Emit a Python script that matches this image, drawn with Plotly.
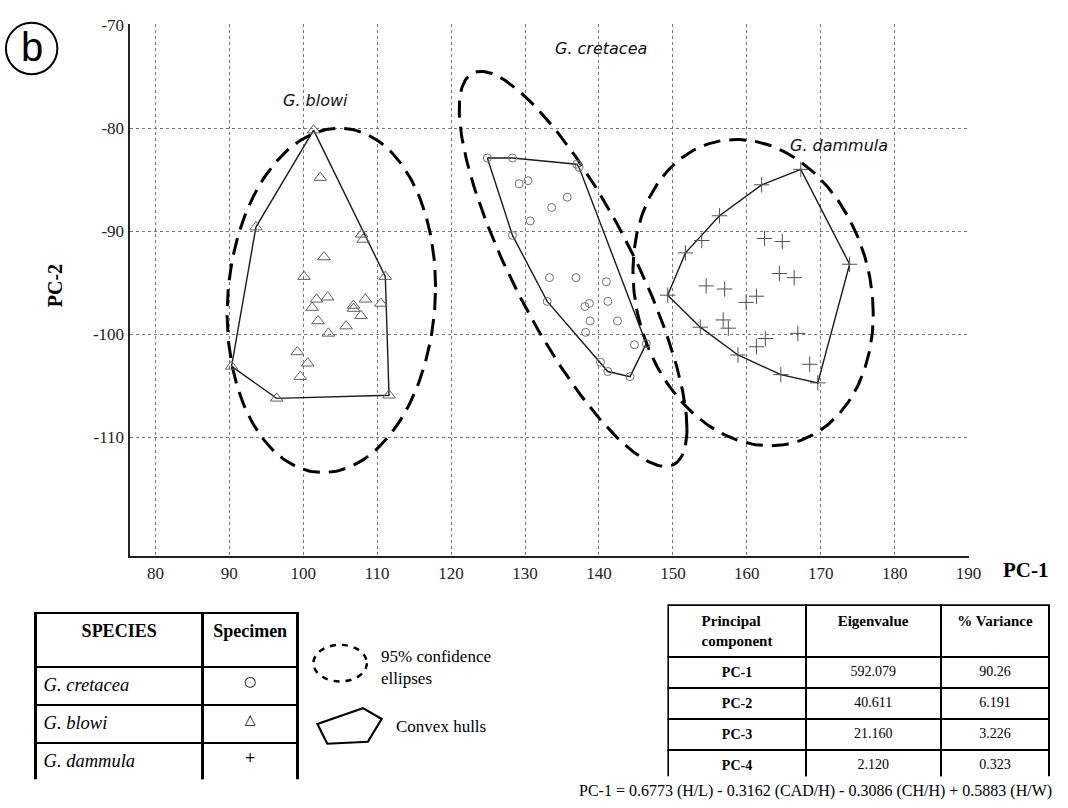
import numpy as np
import plotly.graph_objects as go

# ---------------- data ----------------
blowi_x = [101.4, 102.3, 93.6, 107.9, 108.1, 102.8, 100.1, 111.1, 101.8, 103.3, 101.2, 106.8, 106.8,
           108.4, 110.5, 107.8, 102.0, 105.8, 103.4, 99.2, 100.6, 99.6, 90.3, 96.4, 111.6]
blowi_y = [-80.2, -84.8, -89.6, -90.3, -90.8, -92.5, -94.4, -94.4, -96.6, -96.4, -97.4, -97.2, -97.5,
           -96.6, -97.0, -98.2, -98.7, -99.2, -99.9, -101.7, -102.8, -104.1, -103.1, -106.2, -105.9]

cretacea_x = [124.9, 128.3, 137.0, 137.3, 129.2, 130.4, 135.7, 133.6, 130.7, 128.3, 133.3, 136.9, 141.0,
              133.0, 141.2, 138.7, 138.1, 138.8, 142.5, 138.2, 144.8, 146.4, 140.2, 141.2, 144.2]
cretacea_y = [-82.9, -82.9, -83.5, -83.8, -85.4, -85.1, -86.7, -87.7, -89.0, -90.4, -94.5, -94.5, -94.9,
              -96.8, -96.8, -97.0, -97.3, -98.7, -98.7, -99.8, -101.0, -100.9, -102.7, -103.6, -104.1]

dammula_x = [167.3, 162.0, 156.3, 153.9, 151.7, 162.4, 164.8, 173.9, 164.4, 166.4, 154.5, 157.0, 161.3,
             159.9, 149.3, 156.8, 157.5, 153.7, 166.9, 162.5, 161.3, 158.8, 168.5, 164.6, 169.6]
dammula_y = [-84.0, -85.5, -88.5, -90.9, -92.1, -90.7, -91.0, -93.2, -94.1, -94.5, -95.3, -95.6, -96.3,
             -96.9, -96.2, -98.6, -99.4, -99.3, -99.9, -100.4, -101.2, -102.0, -102.9, -103.9, -104.7]

species = ["G. cretacea", "G. blowi", "G. dammula"]
species_labels_x = [140.3, 101.6, 172.5]
species_labels_y = [-72.3, -77.3, -81.7]

# 95% ellipses: centre, half-extent in x, half-extent in y, correlation
ell_cx = [136.5, 103.8, 160.85]
ell_cy = [-93.65, -96.7, -95.95]
ell_sx = [15.4, 14.1, 16.25]
ell_sy = [19.15, 16.7, 14.85]
ell_r = [-0.81, 0.078, -0.14]

x_ticks = [80, 90, 100, 110, 120, 130, 140, 150, 160, 170, 180, 190]
y_ticks = [-70, -80, -90, -100, -110]

table1_header = ["SPECIES", "Specimen"]
table1_species = ["G. cretacea", "G. blowi", "G. dammula"]
table1_symbols = ["○", "△", "+"]

table2_header = ["Principal<br>component", "Eigenvalue", "% Variance"]
table2_pc = ["PC-1", "PC-2", "PC-3", "PC-4"]
table2_eigen = ["592.079", "40.611", "21.160", "2.120"]
table2_var = ["90.26", "6.191", "3.226", "0.323"]

equation = "PC-1 = 0.6773 (H/L) - 0.3162 (CAD/H) - 0.3086 (CH/H) + 0.5883 (H/W)"

# ---------------- helpers ----------------
W, H = 1068, 808


def fx(px):
    return px / W


def fy(py):
    return 1 - py / H


def convex_hull(xs, ys):
    pts = sorted(set(zip(xs, ys)))

    def cross(o, a, b):
        return (a[0] - o[0]) * (b[1] - o[1]) - (a[1] - o[1]) * (b[0] - o[0])

    lower, upper = [], []
    for p in pts:
        while len(lower) >= 2 and cross(lower[-2], lower[-1], p) <= 0:
            lower.pop()
        lower.append(p)
    for p in reversed(pts):
        while len(upper) >= 2 and cross(upper[-2], upper[-1], p) <= 0:
            upper.pop()
        upper.append(p)
    hull = lower[:-1] + upper[:-1]
    hull.append(hull[0])
    return [p[0] for p in hull], [p[1] for p in hull]


def ellipse(cx, cy, sx, sy, r, n=240):
    t = np.linspace(0, 2 * np.pi, n)
    x = cx + sx * np.cos(t)
    y = cy + sy * (r * np.cos(t) + np.sqrt(1 - r * r) * np.sin(t))
    return x, y


fig = go.Figure()

FONT_SERIF = "Liberation Serif, Times New Roman, serif"

# ellipses
for i in range(3):
    ex, ey = ellipse(ell_cx[i], ell_cy[i], ell_sx[i], ell_sy[i], ell_r[i])
    fig.add_trace(go.Scatter(x=ex, y=ey, mode="lines",
                             line=dict(color="black", width=3, dash="17px,9px"),
                             hoverinfo="skip", showlegend=False))

# hulls + points
groups = [(cretacea_x, cretacea_y, "circle-open", 8, "#707070"),
          (blowi_x, blowi_y, "triangle-up-open", 11, "#606060"),
          (dammula_x, dammula_y, "cross-thin-open", 11, "#505050")]
for xs, ys, sym, sz, col in groups:
    hx, hy = convex_hull(xs, ys)
    fig.add_trace(go.Scatter(x=hx, y=hy, mode="lines",
                             line=dict(color="#1a1a1a", width=1.4),
                             hoverinfo="skip", showlegend=False))
for (xs, ys, sym, sz, col), name in zip(groups, species):
    fig.add_trace(go.Scatter(x=xs, y=ys, mode="markers", name=name,
                             marker=dict(symbol=sym, size=sz, color=col,
                                         line=dict(color=col, width=1)),
                             showlegend=False))

# species labels
for name, lx, ly in zip(species, species_labels_x, species_labels_y):
    fig.add_annotation(x=lx, y=ly, xref="x", yref="y", text=f"<i>{name}</i>",
                       showarrow=False, xanchor="center", yanchor="middle",
                       font=dict(family="DejaVu Sans", size=16, color="#111"))

# tables
fig.add_trace(go.Table(
    domain=dict(x=[fx(36), fx(301)], y=[fy(779), fy(611)]),
    columnwidth=[169, 96],
    header=dict(values=[f"<b>{h}</b>" for h in table1_header],
                align="center", height=54,
                line=dict(color="black", width=2.5), fill=dict(color="white"),
                font=dict(family=FONT_SERIF, size=18, color="black")),
    cells=dict(values=[[f"<i>{s}</i>" for s in table1_species], table1_symbols],
               align=["left", "center"], height=38,
               line=dict(color="black", width=2.5), fill=dict(color="white"),
               font=dict(family=[FONT_SERIF, "DejaVu Sans"], size=[18.5, 14], color="black")),
))

fig.add_trace(go.Table(
    domain=dict(x=[fx(676), fx(1062)], y=[fy(776), fy(603)]),
    columnwidth=[139, 137, 110],
    header=dict(values=[f"<b>{h}</b>" for h in table2_header],
                align="center", height=52,
                line=dict(color="black", width=2), fill=dict(color="white"),
                font=dict(family=FONT_SERIF, size=15, color="black")),
    cells=dict(values=[[f"<b>{p}</b>" for p in table2_pc], table2_eigen, table2_var],
               align="center", height=30,
               line=dict(color="black", width=2), fill=dict(color="white"),
               font=dict(family=FONT_SERIF, size=14, color="black")),
))

# legend-like keys
fig.add_shape(type="circle", xref="paper", yref="paper",
              x0=fx(317), x1=fx(371), y0=fy(680), y1=fy(643),
              line=dict(color="black", width=2.5, dash="6px,6px"))
pent = [(321, 723), (367, 707), (386, 718), (372, 741), (331, 743)]
path = "M " + " L ".join(f"{fx(a)},{fy(b)}" for a, b in pent) + " Z"
fig.add_shape(type="path", xref="paper", yref="paper", path=path,
              line=dict(color="black", width=2.2))
fig.add_annotation(x=fx(383), y=fy(666), xref="paper", yref="paper",
                   text="95% confidence<br>ellipses", showarrow=False, align="left",
                   xanchor="left", yanchor="middle",
                   font=dict(family=FONT_SERIF, size=17, color="black"))
fig.add_annotation(x=fx(398), y=fy(726), xref="paper", yref="paper",
                   text="Convex hulls", showarrow=False, xanchor="left", yanchor="middle",
                   font=dict(family=FONT_SERIF, size=17, color="black"))

# equation
fig.add_annotation(x=fx(1066), y=fy(791), xref="paper", yref="paper",
                   text=equation, showarrow=False, xanchor="right", yanchor="middle",
                   font=dict(family=FONT_SERIF, size=16, color="black"))

# axis titles
fig.add_annotation(x=fx(1038), y=fy(567), xref="paper", yref="paper",
                   text="<b>PC-1</b>", showarrow=False, xanchor="center", yanchor="middle",
                   font=dict(family=FONT_SERIF, size=21, color="black"))
fig.add_annotation(x=fx(55), y=fy(280), xref="paper", yref="paper",
                   text="<b>PC-2</b>", showarrow=False, textangle=-90,
                   xanchor="center", yanchor="middle",
                   font=dict(family=FONT_SERIF, size=20, color="black"))

# panel letter
fig.add_shape(type="circle", xref="paper", yref="paper",
              x0=fx(6), x1=fx(58), y0=fy(66), y1=fy(14),
              line=dict(color="black", width=2))
fig.add_annotation(x=fx(32), y=fy(38), xref="paper", yref="paper", text="b",
                   showarrow=False, xanchor="center", yanchor="middle",
                   font=dict(family="Liberation Sans, Arial", size=40, color="black"))

fig.update_layout(
    width=W, height=H, autosize=False,
    margin=dict(l=0, r=0, t=0, b=0),
    paper_bgcolor="white", plot_bgcolor="white",
    xaxis=dict(domain=[fx(131), fx(980)], range=[76.5, 190.05],
               tickvals=x_ticks, ticktext=[str(v) for v in x_ticks],
               showgrid=True, gridcolor="#777", griddash="dot", gridwidth=1,
               zeroline=False, showline=True, linecolor="#222", linewidth=2,
               ticks="", tickfont=dict(family=FONT_SERIF, size=17, color="#222")),
    yaxis=dict(domain=[fy(553.3), fy(15.6)], range=[-121.5, -69.95],
               tickvals=y_ticks, ticktext=[str(v) for v in y_ticks],
               showgrid=True, gridcolor="#777", griddash="dot", gridwidth=1,
               zeroline=False, showline=True, linecolor="#222", linewidth=2,
               ticks="", tickfont=dict(family=FONT_SERIF, size=17, color="#222")),
    showlegend=False,
)

fig.write_html("out.html", config={"displayModeBar": False},
               post_script="document.body.style.margin='0';document.body.style.overflow='hidden';")
